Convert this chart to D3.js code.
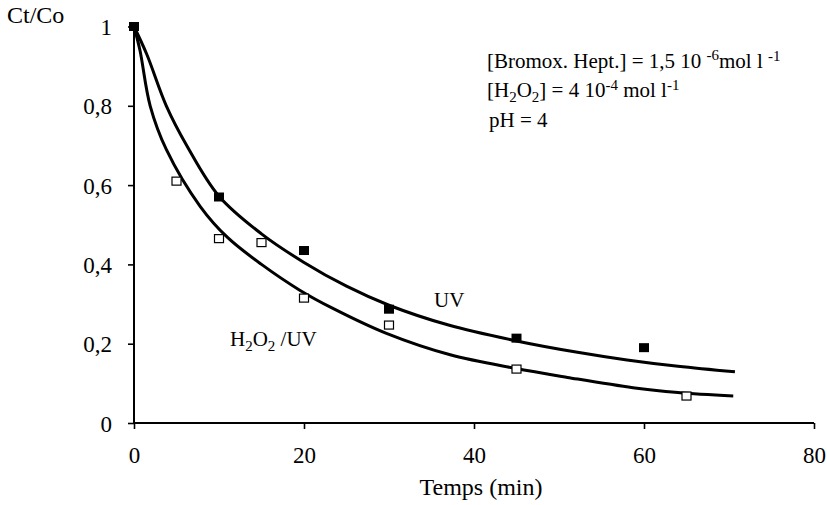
<!DOCTYPE html>
<html>
<head>
<meta charset="utf-8">
<script src="https://d3js.org/d3.v7.min.js"></script>
<style>
  body { margin: 0; background: #fff; }
  svg text { font-family: "Liberation Serif", "Times New Roman", serif; fill: #000; }
</style>
</head>
<body>
<svg width="827" height="505"></svg>
<script>
// measured points
var uvTime = [0, 10, 20, 30, 45, 60];
var uvValue = [1, 0.57, 0.435, 0.287, 0.214, 0.19];

var h2o2Time = [5, 10, 15, 20, 30, 45, 65];
var h2o2Value = [0.61, 0.465, 0.455, 0.315, 0.247, 0.136, 0.068];

// fitted curves
var uvCurveTime = [0, 1.5, 3.8, 6.2, 10, 15, 20, 25, 30, 37, 45, 52, 58, 64, 70.7];
var uvCurveValue = [1, 0.93, 0.8, 0.7, 0.572, 0.477, 0.405, 0.345, 0.297, 0.247, 0.207, 0.179, 0.159, 0.143, 0.129];

var h2o2CurveTime = [0, 0.7, 1.9, 3.8, 7.8, 11, 15, 19.5, 23.4, 29.7, 37.2, 44.8, 51, 58.7, 64, 70.5];
var h2o2CurveValue = [1, 0.94, 0.8, 0.69, 0.546, 0.468, 0.4, 0.335, 0.289, 0.226, 0.172, 0.138, 0.115, 0.089, 0.077, 0.068];

var xTicks = [0, 20, 40, 60, 80];
var yTicks = [0, 0.2, 0.4, 0.6, 0.8, 1];

var svg = d3.select('svg');

var x = d3.scaleLinear().domain([0, 80]).range([134, 814]);
var y = d3.scaleLinear().domain([0, 1]).range([423, 26.5]);

var fmt = function(d) { return String(d).replace('.', ','); };

// axes
var gx = svg.append('g')
  .attr('transform', 'translate(0,' + y(0) + ')')
  .call(d3.axisBottom(x).tickValues(xTicks).tickSize(6).tickPadding(18).tickFormat(fmt));

var gy = svg.append('g')
  .attr('transform', 'translate(' + x(0) + ',0)')
  .call(d3.axisLeft(y).tickValues(yTicks).tickSize(6).tickPadding(16).tickFormat(fmt));

[gx, gy].forEach(function(g) {
  g.attr('font-size', 23).attr('font-family', '"Liberation Serif", serif');
  g.select('.domain').attr('stroke', '#000').attr('stroke-width', 2);
  g.selectAll('.tick line').attr('stroke', '#000').attr('stroke-width', 1.6);
});
gy.selectAll('.tick text').attr('dy', '0.35em');
gy.select('.domain').attr('d', 'M0,' + y(0) + 'V' + y(1));
gx.select('.domain').attr('d', 'M' + x(0) + ',0H' + x(80));

// curves
var line = d3.line()
  .x(function(d) { return x(d[0]); })
  .y(function(d) { return y(d[1]); })
  .curve(d3.curveCatmullRom.alpha(0.5));

svg.append('path')
  .datum(d3.zip(uvCurveTime, uvCurveValue))
  .attr('d', line)
  .attr('fill', 'none').attr('stroke', '#000').attr('stroke-width', 3);

svg.append('path')
  .datum(d3.zip(h2o2CurveTime, h2o2CurveValue))
  .attr('d', line)
  .attr('fill', 'none').attr('stroke', '#000').attr('stroke-width', 3);

// markers
svg.selectAll('.uv')
  .data(d3.zip(uvTime, uvValue))
  .enter().append('rect')
  .attr('class', 'uv')
  .attr('x', function(d) { return x(d[0]) - 5; })
  .attr('y', function(d) { return y(d[1]) - 4.5; })
  .attr('width', 10).attr('height', 9)
  .attr('fill', '#000');

svg.selectAll('.h2o2')
  .data(d3.zip(h2o2Time, h2o2Value))
  .enter().append('rect')
  .attr('class', 'h2o2')
  .attr('x', function(d) { return x(d[0]) - 4.5; })
  .attr('y', function(d) { return y(d[1]) - 4; })
  .attr('width', 9).attr('height', 8)
  .attr('fill', '#fff').attr('stroke', '#000').attr('stroke-width', 1.2);

// labels
svg.append('text').attr('x', 7).attr('y', 23).attr('font-size', 24).text('Ct/Co');

svg.append('text').attr('x', 481).attr('y', 495).attr('font-size', 24)
  .attr('text-anchor', 'middle').text('Temps (min)');

svg.append('text').attr('x', 434).attr('y', 307).attr('font-size', 21).text('UV');

var lab = svg.append('text').attr('x', 230).attr('y', 346).attr('font-size', 21);
lab.append('tspan').text('H');
lab.append('tspan').attr('font-size', 15).attr('dy', 5).text('2');
lab.append('tspan').attr('dy', -5).text('O');
lab.append('tspan').attr('font-size', 15).attr('dy', 5).text('2');
lab.append('tspan').attr('dy', -5).text(' /UV');

var t1 = svg.append('text').attr('x', 487).attr('y', 68).attr('font-size', 21);
t1.append('tspan').text('[Bromox. Hept.] = 1,5 10 ');
t1.append('tspan').attr('font-size', 15).attr('dy', -8).text('-6');
t1.append('tspan').attr('dy', 8).text('mol l ');
t1.append('tspan').attr('font-size', 15).attr('dy', -7).text('-1');

var t2 = svg.append('text').attr('x', 487).attr('y', 97).attr('font-size', 21);
t2.append('tspan').text('[H');
t2.append('tspan').attr('font-size', 15).attr('dy', 5).text('2');
t2.append('tspan').attr('dy', -5).text('O');
t2.append('tspan').attr('font-size', 15).attr('dy', 5).text('2');
t2.append('tspan').attr('dy', -5).text('] = 4 10');
t2.append('tspan').attr('font-size', 15).attr('dy', -7).text('-4');
t2.append('tspan').attr('dy', 7).text('  mol l');
t2.append('tspan').attr('font-size', 15).attr('dy', -7).text('-1');

svg.append('text').attr('x', 489).attr('y', 127).attr('font-size', 21).text('pH = 4');
</script>
</body>
</html>
